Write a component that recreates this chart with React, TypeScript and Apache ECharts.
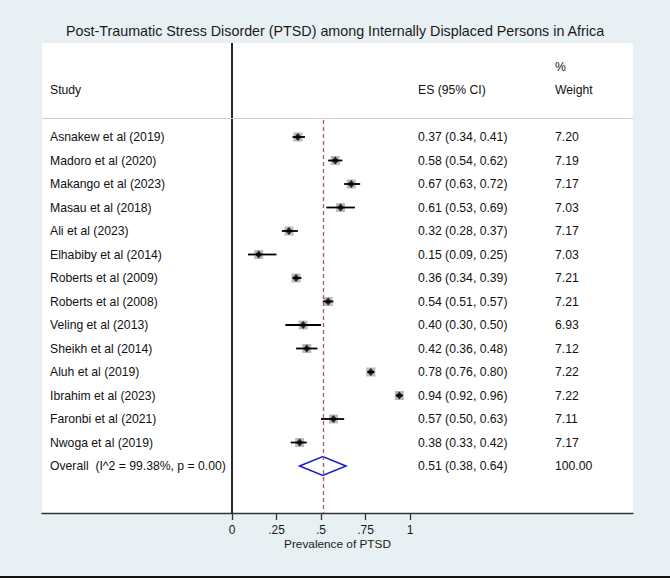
import React, { useEffect, useRef } from "react";
import * as echarts from "echarts";

const studies = [
  "Asnakew et al (2019)",
  "Madoro et al (2020)",
  "Makango et al (2023)",
  "Masau et al (2018)",
  "Ali et al (2023)",
  "Elhabiby et al (2014)",
  "Roberts et al (2009)",
  "Roberts et al (2008)",
  "Veling et al (2013)",
  "Sheikh et al (2014)",
  "Aluh et al (2019)",
  "Ibrahim et al (2023)",
  "Faronbi et al (2021)",
  "Nwoga et al (2019)",
];
const es = [0.37, 0.58, 0.67, 0.61, 0.32, 0.15, 0.36, 0.54, 0.40, 0.42, 0.78, 0.94, 0.57, 0.38];
const lower = [0.34, 0.54, 0.63, 0.53, 0.28, 0.09, 0.34, 0.51, 0.30, 0.36, 0.76, 0.92, 0.50, 0.33];
const upper = [0.41, 0.62, 0.72, 0.69, 0.37, 0.25, 0.39, 0.57, 0.50, 0.48, 0.80, 0.96, 0.63, 0.42];
const weights = [7.20, 7.19, 7.17, 7.03, 7.17, 7.03, 7.21, 7.21, 6.93, 7.12, 7.22, 7.22, 7.11, 7.17];

const overallLabel = "Overall  (I^2 = 99.38%, p = 0.00)";
const overallEs = 0.51;
const overallLower = 0.38;
const overallUpper = 0.64;
const overallWeight = 100.0;

const xTicks = [0, 0.25, 0.5, 0.75, 1];
const titleText = "Post-Traumatic Stress Disorder (PTSD) among Internally Displaced Persons in Africa";
const xName = "Prevalence of PTSD";

const FONT = "'Liberation Sans', Arial, Helvetica, sans-serif";

export default function App() {
  const ref = useRef<HTMLDivElement>(null);
  useEffect(() => {
    document.body.style.margin = "0";
    const chart = echarts.init(ref.current!, undefined, { renderer: "svg" });
    const n = studies.length;
    const rowIdx = studies.map((_, i) => i);
    const overallRow = n;
    const fmtTick = (v: number) => {
      const r = Math.round(v * 100) / 100;
      if (r === 0) return "0";
      if (r === 1) return "1";
      return String(r).replace(/^0/, "");
    };
    const esText = (i: number) =>
      i === overallRow
        ? `${overallEs.toFixed(2)} (${overallLower.toFixed(2)}, ${overallUpper.toFixed(2)})`
        : `${es[i].toFixed(2)} (${lower[i].toFixed(2)}, ${upper[i].toFixed(2)})`;

    const yBase = {
      type: "value",
      min: -4,
      max: 16,
      inverse: true,
      splitLine: { show: false },
      axisLine: { show: false },
      axisTick: { show: false },
    };
    const allRows = [...rowIdx, overallRow];

    chart.setOption({
      animation: false,
      backgroundColor: "#e9f0f3",
      title: {
        text: titleText,
        left: "center",
        top: 19,
        textStyle: { fontFamily: FONT, fontSize: 14.3, fontWeight: "normal", color: "#1a1a1a" },
      },
      grid: {
        left: 42,
        right: 37,
        top: 43,
        bottom: 68,
        show: true,
        backgroundColor: "#ffffff",
        borderWidth: 0,
      },
      xAxis: {
        type: "value",
        min: (42 - 232) / 178,
        max: (633 - 232) / 178,
        splitLine: { show: false },
        axisLine: { show: true, onZero: false, lineStyle: { color: "#333", width: 1.3 } },
        axisTick: { show: true, customValues: xTicks, length: 7, lineStyle: { color: "#333", width: 1.3 } },
        axisLabel: {
          customValues: xTicks,
          formatter: (v: number) => fmtTick(v),
          fontFamily: FONT,
          fontSize: 12,
          lineHeight: 12,
          color: "#1a1a1a",
          margin: 11,
        },
        name: xName,
        nameLocation: "middle",
        nameGap: 25,
        nameMoveOverlap: false,
        nameTextStyle: { fontFamily: FONT, fontSize: 11.8, lineHeight: 12, color: "#1a1a1a" },
      },
      yAxis: [
        {
          ...yBase,
          position: "left",
          axisLabel: {
            inside: true,
            margin: 8,
            align: "left",
            customValues: [-2, ...allRows],
            formatter: (v: number) => {
              const k = Math.round(v);
              if (k === -2) return "Study";
              if (k === overallRow) return overallLabel;
              return studies[k];
            },
            fontFamily: FONT,
            fontSize: 12.2,
            color: "#111",
          },
        },
        {
          ...yBase,
          position: "right",
          axisLabel: {
            inside: true,
            margin: 215,
            align: "left",
            customValues: [-2, ...allRows],
            formatter: (v: number) => {
              const k = Math.round(v);
              if (k === -2) return "ES (95% CI)";
              return esText(k);
            },
            fontFamily: FONT,
            fontSize: 12.2,
            color: "#111",
          },
        },
        {
          ...yBase,
          position: "right",
          axisLabel: {
            inside: true,
            margin: 78,
            align: "left",
            customValues: [-3, -2, ...allRows],
            formatter: (v: number) => {
              const k = Math.round(v);
              if (k === -3) return "%";
              if (k === -2) return "Weight";
              if (k === overallRow) return overallWeight.toFixed(2);
              return weights[k].toFixed(2);
            },
            fontFamily: FONT,
            fontSize: 12.2,
            color: "#111",
          },
        },
      ],
      series: [
        {
          type: "scatter",
          name: "weight box",
          yAxisIndex: 0,
          symbol: "rect",
          symbolSize: (d: number[]) => 9 * Math.sqrt(d[2] / 7.2),
          itemStyle: { color: "#a8a8a8" },
          data: rowIdx.map((i) => [es[i], i, weights[i]]),
          z: 2,
          markLine: {
            silent: true,
            symbol: "none",
            label: { show: false },
            data: [
              { xAxis: 0, lineStyle: { color: "#000", width: 1.7, type: "solid" } },
              [
                { coord: [overallEs, -0.72], lineStyle: { color: "#b05858", width: 1.3, type: [4, 3] } },
                { coord: [overallEs, 16] },
              ],
              { yAxis: -0.78, lineStyle: { color: "#cfcfcf", width: 1, type: "solid" } },
            ],
          },
        },
        {
          type: "custom",
          name: "CI",
          yAxisIndex: 0,
          z: 3,
          encode: { x: [0, 1], y: 2 },
          data: rowIdx.map((i) => [lower[i], upper[i], i]),
          renderItem: (params: any, api: any) => {
            const a = api.coord([api.value(0), api.value(2)]);
            const b = api.coord([api.value(1), api.value(2)]);
            return {
              type: "line",
              shape: { x1: a[0], y1: a[1], x2: b[0], y2: b[1] },
              style: { stroke: "#000", lineWidth: 1.8 },
            };
          },
        },
        {
          type: "scatter",
          name: "ES",
          yAxisIndex: 0,
          symbol: "diamond",
          symbolSize: [7, 8],
          itemStyle: { color: "#000" },
          data: rowIdx.map((i) => [es[i], i]),
          z: 4,
        },
        {
          type: "custom",
          name: "Overall",
          yAxisIndex: 0,
          z: 4,
          encode: { x: [0, 1, 2], y: 3 },
          data: [[overallLower, overallEs, overallUpper, overallRow]],
          renderItem: (params: any, api: any) => {
            const y = api.value(3);
            const p1 = api.coord([api.value(0), y]);
            const p2 = api.coord([api.value(1), y - 0.4]);
            const p3 = api.coord([api.value(2), y]);
            const p4 = api.coord([api.value(1), y + 0.4]);
            return {
              type: "polygon",
              shape: { points: [p1, p2, p3, p4] },
              style: { stroke: "#1c1ccc", fill: "none", lineWidth: 1.6 },
            };
          },
        },
      ],
      graphic: [
        { type: "rect", shape: { x: 0, y: 576, width: 670, height: 2 }, style: { fill: "#111" }, z: 10 },
        { type: "rect", shape: { x: 0, y: 578, width: 670, height: 3 }, style: { fill: "#ffffff" }, z: 10 },
      ],
    });
    return () => chart.dispose();
  }, []);
  return <div ref={ref} style={{ width: 670, height: 581 }} />;
}
